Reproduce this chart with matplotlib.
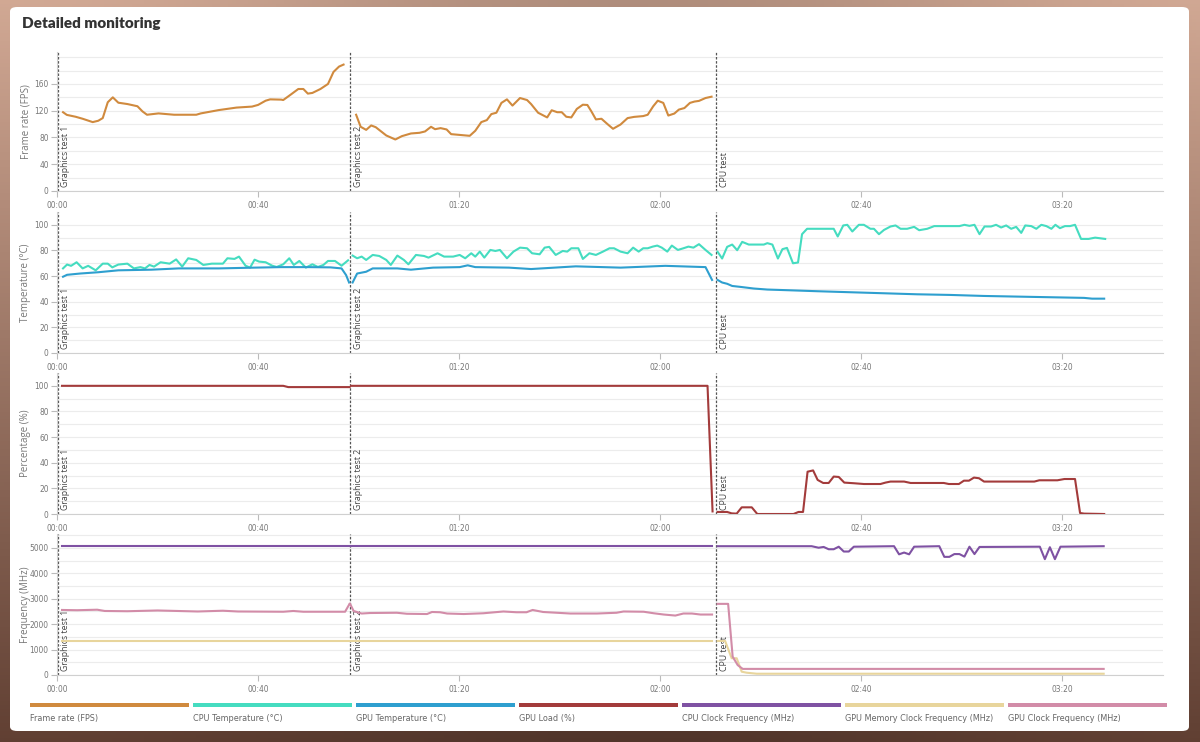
import numpy as np
import matplotlib
matplotlib.use("Agg")
import matplotlib.pyplot as plt
from matplotlib import font_manager
from matplotlib.font_manager import FontProperties
from matplotlib.patches import FancyBboxPatch, Rectangle

# ---------------- data ----------------
test_names = ["Graphics test 1", "Graphics test 2", "CPU test"]
test_starts = [0.2, 58.3, 131.1]

x_ticks = [0, 40, 80, 120, 160, 200]
x_tick_labels = ["00:00", "00:40", "01:20", "02:00", "02:40", "03:20"]

series_names = ["Frame rate (FPS)", "CPU Temperature (°C)", "GPU Temperature (°C)",
                "GPU Load (%)", "CPU Clock Frequency (MHz)",
                "GPU Memory Clock Frequency (MHz)", "GPU Clock Frequency (MHz)"]
series_colors = ["#d08a3e", "#45dcc0", "#2e9fcf", "#a33b3b", "#7f52a3", "#e8d59c", "#d28ca8"]

# Frame rate
fps_t1_time = [1.2, 1.95, 3.7, 5.1, 7.1, 8.2, 9.1, 10.1, 11.1, 12.2, 14, 16, 17, 17.9, 20.2, 23.3,
               27.7, 28.6, 32.2, 35.7, 38.8, 40, 41.5, 42.4, 44.6, 45, 46.4, 48, 49, 49.9, 50.8,
               52.4, 53.9, 55, 56.1, 57]
fps_t1 = [117.8, 113.8, 111, 108, 103, 105, 109, 132.7, 140, 132, 130, 126.7, 119, 114, 116, 114,
          114, 116, 121, 124.7, 126.2, 128.7, 135, 137, 136.6, 136, 143.6, 152.5, 152.5, 145.6, 146.6,
          152.5, 160, 178, 186, 189]
fps_t2_time = [59.5, 60.4, 61.5, 62.5, 63.4, 65.5, 67.3, 68.6, 70.4, 72.1, 73.2, 74.4, 75.2, 76.3,
               77.5, 78.4, 80.6, 82.1, 83.2, 84.4, 85.5, 86.4, 87.4, 88.4, 89.5, 90.6, 92.1, 93.5,
               94.3, 95.7, 97.5, 98.4, 99.5, 100.4, 101.3, 102.3, 103.4, 104.6, 105.5, 106.3, 107.2,
               108.3, 109.5, 110.6, 112.1, 113.5, 114.8, 116.6, 117.5, 118.6, 119.5, 120.6, 121.6,
               122.8, 123.7, 124.8, 125.9, 126.8, 127.7, 129, 130.2]
fps_t2 = [114, 96, 91.4, 98, 95.4, 83, 77, 82, 86, 87, 89, 96, 92.4, 94, 92, 85, 83.5, 82.5, 90, 103,
          106, 115, 117, 131.7, 137, 127.7, 139, 136, 130, 117, 110, 120.7, 117.8, 117.8, 111, 110,
          122.7, 129, 128.6, 119, 107, 108, 100, 93, 99.4, 109, 110.8, 112, 114, 126.7, 135, 131.7,
          112.8, 115.8, 121.7, 124, 131.7, 133.7, 134.7, 139, 141]

# CPU temperature
cput_t1_time = [1.2, 2, 2.8, 3.9, 5.1, 6.2, 7.7, 9.1, 10.1, 11, 12.2, 14, 15.3, 16.6, 17.5, 18.4,
                19.3, 20.6, 22.4, 23.7, 24.9, 26.1, 27.7, 29.1, 30.8, 33, 33.9, 35.3, 36.2, 37.5,
                38.4, 39.3, 40.2, 41.5, 42.8, 43.7, 45, 46.2, 47.1, 48.2, 49.5, 50.8, 51.9, 53,
                53.9, 55.3, 56.6, 57.9]
cput_t1 = [66, 69, 68, 70.8, 66, 68, 64.5, 69.7, 69.7, 66.8, 69, 69.7, 66, 67, 66, 68.7, 67.4, 70.8,
           69.7, 73, 67.4, 73.9, 72.6, 68.7, 69.7, 69.7, 73.9, 73.4, 75.2, 68.1, 66.6, 72.8, 71.3,
           70.8, 68.1, 67.1, 69.2, 73.9, 68.7, 71.8, 66.6, 69.2, 67.1, 68.7, 71.8, 71.8, 68.1, 72.3]
cput_t2_time = [58.8, 59.7, 60.6, 61.5, 62.8, 64.1, 65.5, 66.4, 67.7, 69, 69.9, 71.4, 73, 73.9, 75.7,
                77, 78.8, 80.1, 81.2, 82.4, 83.2, 84.1, 85, 86.2, 87.2, 88.1, 89.5, 90.8, 92.1,
                93.5, 94.5, 96, 97, 97.9, 99.2, 100.6, 101.5, 102.3, 103.7, 104.6, 105.9, 107.2,
                108.6, 109.9, 110.8, 112.1, 113.5, 114.6, 115.7, 116.6, 117.5, 118.5, 119.4, 120.3,
                121.4, 122.3, 123.5, 124.6, 125.6, 126.6, 127.7, 129, 130.2]
cput_t2 = [76, 73.9, 75.2, 72.6, 76.5, 75.7, 72.6, 68.7, 76, 72.6, 69.2, 76.5, 75.7, 74.4, 77.8, 75.2,
           75.2, 76.5, 73.9, 77.8, 75.2, 79.1, 74.4, 80.4, 79.6, 80.4, 73.9, 79.1, 82.2, 81.7, 77.8,
           77, 82.2, 82.8, 76.5, 79.6, 79.1, 81.7, 81.7, 73.4, 77.8, 76.5, 79.1, 81.7, 81.7, 79.1,
           77.8, 82.2, 79.1, 81.7, 81.7, 83, 83.8, 82.2, 79.1, 83.8, 80.4, 81.7, 83, 82.2, 84.9,
           80.4, 76.5]
cput_cpu_time = [131.4, 132.3, 133.3, 134.3, 135.3, 136.3, 137.6, 140.6, 141.3, 142.3, 143.4, 144.3,
                 145.2, 146.4, 147.4, 148.2, 149.2, 154.5, 155.3, 156.4, 157.2, 158.2, 159.5, 160.5,
                 161.8, 162.5, 163.5, 164.5, 165.8, 166.8, 167.8, 169.1, 170.5, 171.5, 173.1, 174.5,
                 179.5, 180.5, 181.5, 182.5, 183.5, 184.5, 185.8, 186.8, 187.8, 188.8, 189.8, 190.8,
                 191.8, 192.6, 193.8, 194.8, 195.8, 196.8, 197.8, 198.6, 199.5, 200.5, 201.5, 202.5,
                 203.7, 205.2, 206.5, 208.5]
cput_cpu = [79, 73.7, 82.8, 84.6, 80.2, 86.7, 84.6, 84.6, 85.7, 84.6, 73.7, 81, 82, 70, 70.6, 92.7,
            96.9, 96.9, 90.9, 99.5, 100, 94.8, 100, 100, 96.9, 96.9, 92.7, 96, 98.7, 99.5, 96.9, 96.9,
            98.4, 95.8, 96.9, 99, 99, 100, 99.2, 100, 92.7, 98.7, 98.7, 100, 97.9, 99.5, 96.9, 98.4,
            93.7, 99.5, 99, 96.9, 100, 99, 96.9, 100, 97.4, 99, 99, 100, 89, 89, 90, 89]

# GPU temperature
gput_t1_time = [1.2, 2, 4.6, 8.2, 12.2, 18.8, 24.2, 32.2, 39.3, 44.6, 50, 54.4, 56.6, 57.5, 58.1]
gput_t1 = [59.5, 61, 62, 63, 64.5, 65, 66, 66, 66.6, 67, 67, 66.8, 66, 60.8, 55]
gput_t2_time = [58.8, 59.7, 61.5, 62.8, 67.7, 70.4, 74.8, 80.1, 81.7, 83.2, 89.9, 94.3, 103.2, 112.1,
                121, 129, 130.3]
gput_t2 = [55, 62, 63.4, 66, 66, 65, 66.6, 67, 68.4, 67, 66.6, 65.5, 67.6, 66.6, 68, 67, 57]
gput_cpu_time = [131.4, 132.3, 133.3, 134.3, 135.9, 138.6, 141.3, 145.2, 151.2, 157.8, 164.5, 171.1,
                 177.7, 184.4, 191, 197.6, 204.3, 205.9, 208.3]
gput_cpu = [57, 55, 54, 52.3, 51.6, 50.3, 49.5, 49, 48.2, 47.4, 46.6, 45.8, 45.3, 44.5, 44, 43.5,
            43, 42.4, 42.4]

# GPU load
load_t1_time = [1, 45, 46, 58.2]
load_t1 = [100, 100, 99, 99]
load_t2_time = [58.5, 129.4, 130.4]
load_t2 = [100, 100, 2]
load_cpu_time = [131.4, 133.3, 134.2, 135.2, 136.2, 138.2, 139.3, 146.5, 147.5, 148.4, 149.3, 150.4,
                 151.3, 152.4, 153.5, 154.5, 155.5, 156.6, 158.5, 160.5, 163.8, 164.8, 165.8, 168.5,
                 169.8, 176.4, 177.4, 179.4, 180.4, 181.4, 182.4, 183.4, 184.4, 194.4, 195.4, 199,
                 200.4, 202.5, 203.5, 204.3, 208.3]
load_cpu = [1.6, 1.6, 0.5, 0.3, 5.2, 5.2, 0, 0, 1.6, 1.6, 33, 34, 26.6, 24.2, 24.2, 29.2, 28.9, 24.5,
            24, 23.4, 23.4, 24.5, 25.3, 25.3, 24.2, 24.2, 23.4, 23.4, 26, 26, 28.4, 27.9, 25.3, 25.3,
            26.3, 26.3, 27.3, 27.3, 0.8, 0.3, 0]

# CPU clock
cpuclk_t1_time = [1, 58.2]
cpuclk_t1 = [5080, 5080]
cpuclk_t2_time = [58.5, 130.3]
cpuclk_t2 = [5080, 5080]
cpuclk_cpu_time = [131.4, 150.1, 151.5, 152.5, 153.5, 154.5, 155.5, 156.5, 157.5, 158.5, 166.5, 167.5,
                   168.5, 169.5, 170.5, 175.5, 176.5, 177.5, 178.5, 179.5, 180.5, 181.5, 182.5, 183.5,
                   195.5, 196.5, 197.5, 198.5, 199.6, 208.2]
cpuclk_cpu = [5070, 5070, 5010, 5040, 4950, 4950, 5050, 4860, 4860, 5050, 5070, 4750, 4820, 4750,
              5050, 5070, 4650, 4650, 4760, 4760, 4660, 5050, 4760, 5040, 5050, 4560, 5030, 4560,
              5050, 5070]

# GPU memory clock
memclk_t1_time = [1, 58.2]
memclk_t1 = [1330, 1330]
memclk_t2_time = [58.5, 130.3]
memclk_t2 = [1330, 1330]
memclk_cpu_time = [131.4, 132.9, 134.2, 135.2, 136.2, 137.2, 139.2, 208.2]
memclk_cpu = [1340, 1340, 660, 660, 130, 90, 50, 50]

# GPU clock
gpuclk_t1_time = [1, 4, 8, 9.5, 14, 20, 24, 28, 33, 36, 45, 47, 49, 57.3, 58.2]
gpuclk_t1 = [2560, 2550, 2570, 2520, 2510, 2540, 2520, 2500, 2530, 2500, 2490, 2520, 2490, 2490, 2800]
gpuclk_t2_time = [58.3, 59, 60.6, 62.3, 67.6, 69.6, 73.6, 74.6, 76.2, 77.6, 80.9, 84.8, 88.8, 91.4,
                  93.4, 94.6, 96.7, 102.1, 107.4, 111.3, 112.7, 116.7, 118.7, 120.7, 123, 124.6,
                  126.3, 128, 130.3]
gpuclk_t2 = [2800, 2520, 2420, 2440, 2450, 2410, 2400, 2480, 2470, 2420, 2400, 2430, 2500, 2470,
             2470, 2560, 2480, 2420, 2420, 2450, 2500, 2490, 2430, 2380, 2340, 2420, 2420, 2380, 2380]
gpuclk_cpu_time = [131.4, 133.5, 134.4, 135.4, 136.4, 208.2]
gpuclk_cpu = [2800, 2800, 720, 390, 240, 240]

# ---------------- fonts ----------------
flist = font_manager.fontManager.ttflist
names = {f.name for f in flist}
title_font = "Lato" if "Lato" in names else "DejaVu Sans"
label_font = "Open Sans" if "Open Sans" in names else "DejaVu Sans"

def small_props(size):
    cands = [f for f in flist if ("Narrow" in f.name or "Condensed" in f.name or
                                  str(f.stretch) in ("condensed", "semi-condensed", "600", "500"))
             and f.weight in (400, "normal", "regular") and f.style == "normal"]
    if cands:
        return FontProperties(fname=cands[0].fname, size=size)
    return FontProperties(family="Roboto", size=size)

# ---------------- figure ----------------
W, H = 1200, 742
fig = plt.figure(figsize=(W / 100, H / 100), dpi=100)

# background (photo behind the card, approximated by a warm gradient)
bg = fig.add_axes([0, 0, 1, 1], zorder=-10)
gy = np.linspace(0, 1, 200)[:, None]
gx = np.linspace(0, 1, 300)[None, :]
top = np.array([0.82, 0.66, 0.58])
bot = np.array([0.38, 0.25, 0.20])
grad = top[None, None, :] * (1 - gy[..., None]) + bot[None, None, :] * gy[..., None]
grad = grad * (0.92 + 0.08 * np.cos(gx[..., None] * 6.0))
bg.imshow(np.clip(grad, 0, 1), aspect="auto", extent=[0, 1, 0, 1])
bg.set_axis_off()

def px_x(x):
    return x / W

def px_y(y):
    return 1 - y / H

card = FancyBboxPatch((px_x(10), px_y(731)), px_x(1189) - px_x(10), px_y(7) - px_y(731),
                      boxstyle="round,pad=0,rounding_size=0.006", transform=fig.transFigure,
                      facecolor="white", edgecolor="none", zorder=-5)
fig.patches.append(card)

fig.text(px_x(22), px_y(24), "Detailed monitoring", family=title_font, fontweight="heavy",
         fontsize=11, color="#333333", ha="left", va="center")

panels = [
    dict(top=52, bottom=191, ylim=207.8, ymax_label=160, major=40, minor=20, label="Frame rate (FPS)",
         lines=[(fps_t1_time, fps_t1, 0), (fps_t2_time, fps_t2, 0)]),
    dict(top=212, bottom=353, ylim=110, ymax_label=100, major=20, minor=10, label="Temperature (°C)",
         lines=[(cput_t1_time, cput_t1, 1), (cput_t2_time, cput_t2, 1), (cput_cpu_time, cput_cpu, 1),
                (gput_t1_time, gput_t1, 2), (gput_t2_time, gput_t2, 2), (gput_cpu_time, gput_cpu, 2)]),
    dict(top=373, bottom=514, ylim=110, ymax_label=100, major=20, minor=10, label="Percentage (%)",
         lines=[(load_t1_time, load_t1, 3), (load_t2_time, load_t2, 3), (load_cpu_time, load_cpu, 3)]),
    dict(top=534, bottom=675, ylim=5550, ymax_label=5000, major=1000, minor=500, label="Frequency (MHz)",
         lines=[(cpuclk_t1_time, cpuclk_t1, 4), (cpuclk_t2_time, cpuclk_t2, 4),
                (cpuclk_cpu_time, cpuclk_cpu, 4),
                (memclk_t1_time, memclk_t1, 5), (memclk_t2_time, memclk_t2, 5),
                (memclk_cpu_time, memclk_cpu, 5),
                (gpuclk_t1_time, gpuclk_t1, 6), (gpuclk_t2_time, gpuclk_t2, 6),
                (gpuclk_cpu_time, gpuclk_cpu, 6)]),
]

tick_fp = small_props(6.0)

for p in panels:
    ax = fig.add_axes([px_x(57), px_y(p["bottom"]), px_x(1163) - px_x(57),
                       px_y(p["top"]) - px_y(p["bottom"])])
    ax.set_facecolor("none")
    ax.set_xlim(0, 220)
    ax.set_ylim(0, p["ylim"])
    for s in ["top", "right"]:
        ax.spines[s].set_visible(False)
    for s in ["left", "bottom"]:
        ax.spines[s].set_color("#d0d0d0")
        ax.spines[s].set_linewidth(0.8)
    ax.set_yticks(np.arange(0, p["ymax_label"] + 1, p["major"]))
    ax.set_yticks(np.arange(0, p["ylim"], p["minor"]), minor=True)
    ax.grid(True, which="both", axis="y", color="#ececec", linewidth=0.8, zorder=0)
    ax.tick_params(axis="y", which="minor", length=0)
    ax.tick_params(axis="y", which="major", length=4, color="#bbbbbb", width=0.8,
                   labelcolor="#777777", pad=2)
    ax.set_xticks(x_ticks)
    ax.set_xticklabels(x_tick_labels)
    ax.tick_params(axis="x", length=4, color="#bbbbbb", width=0.8,
                   labelcolor="#777777", pad=3)
    for lab in ax.get_xticklabels() + ax.get_yticklabels():
        lab.set_fontproperties(tick_fp)
    ax.set_ylabel(p["label"], family=label_font, fontsize=7, color="#777777")
    ax.yaxis.set_label_coords(-0.0235, 0.5)

    for name, t0 in zip(test_names, test_starts):
        ax.axvline(t0, color="#555555", linewidth=0.9, linestyle=(0, (2, 1.3)), zorder=2)
        ax.annotate(name, xy=(t0, 0), xycoords=("data", "axes fraction"),
                    xytext=(2.5, 3), textcoords="offset points", rotation=90,
                    ha="left", va="bottom", fontsize=6.3, color="#444444",
                    family=label_font, zorder=2)

    for tt, vv, ci in p["lines"]:
        ax.plot(tt, vv, color=series_colors[ci], linewidth=1.5, solid_joinstyle="round",
                zorder=3)

# legend strip
leg_fp = small_props(6.5)
for i, (name, col) in enumerate(zip(series_names, series_colors)):
    x0 = 30 + i * 163
    fig.patches.append(Rectangle((px_x(x0), px_y(707)), px_x(159), 4 / H,
                                 transform=fig.transFigure, facecolor=col, edgecolor="none"))
    fig.text(px_x(x0), px_y(721), name, fontproperties=leg_fp, color="#666666",
             ha="left", va="baseline")

fig.savefig("out.png", dpi=100)
